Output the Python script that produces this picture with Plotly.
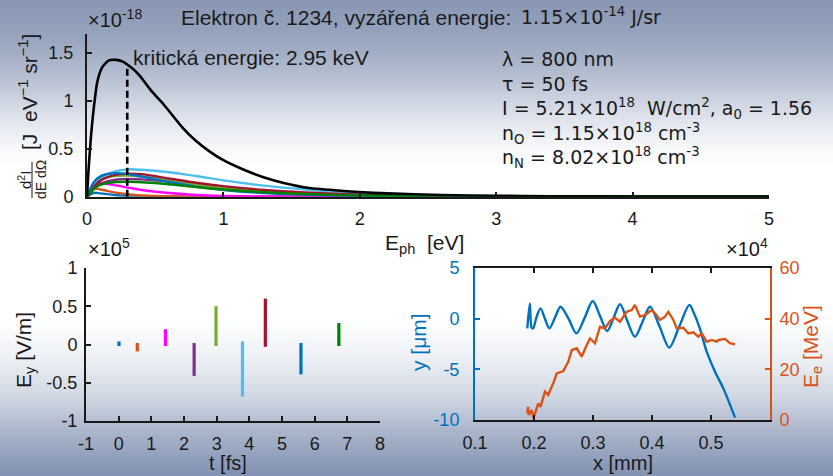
import plotly.graph_objects as go
import numpy as np

W, H = 833, 476

# ---------------- data ----------------
# top panel: photon spectrum (E_ph in 1e4 eV, intensity in 1e-18 J eV^-1 sr^-1)
E_total = [0, 0.01, 0.027, 0.051, 0.076, 0.112, 0.161, 0.21, 0.259, 0.32, 0.381, 0.467,
           0.565, 0.7, 0.8, 0.9, 1.0, 1.15, 1.3, 1.45, 1.63, 1.88, 2.1, 2.4, 2.8, 3.2,
           3.6, 4.0, 4.5, 5.0]
I_total = [0, 0.25, 0.59, 0.94, 1.20, 1.35, 1.42, 1.425, 1.41, 1.35, 1.27, 1.11,
           0.955, 0.72, 0.58, 0.47, 0.38, 0.28, 0.2, 0.14, 0.09, 0.06, 0.04, 0.025, 0.013,
           0.007, 0.004, 0.002, 0.001, 0.0005]
crit_energy_keV = 2.95

E_part = [0, 0.05, 0.1, 0.2, 0.3, 0.4, 0.6, 0.8, 1.0, 1.3, 1.6, 2.0, 2.5, 3.0, 4.0, 5.0]
I_blue1 = [0, 0.04, 0.035, 0.018, 0.008, 0.003, 0.001, 0, 0, 0, 0, 0, 0, 0, 0, 0]
I_orange = [0, 0.085, 0.075, 0.045, 0.025, 0.013, 0.004, 0.001, 0, 0, 0, 0, 0, 0, 0, 0]
I_magenta = [0, 0.12, 0.14, 0.12, 0.095, 0.07, 0.038, 0.018, 0.008, 0.003, 0.001, 0, 0, 0, 0, 0]
I_purple = [0, 0.08, 0.135, 0.175, 0.185, 0.18, 0.155, 0.12, 0.09, 0.056, 0.033, 0.016, 0.006, 0.002, 0, 0]
I_yellowgreen = [0, 0.11, 0.175, 0.215, 0.22, 0.21, 0.17, 0.125, 0.09, 0.055, 0.032, 0.014, 0.005, 0.002, 0, 0]
I_lightblue = [0, 0.12, 0.2, 0.26, 0.285, 0.28, 0.255, 0.215, 0.17, 0.115, 0.075, 0.035, 0.013, 0.006, 0.002, 0.001]
I_darkred = [0, 0.1, 0.17, 0.225, 0.24, 0.235, 0.19, 0.145, 0.11, 0.07, 0.045, 0.022, 0.008, 0.003, 0.001, 0]
I_blue2 = [0, 0.15, 0.215, 0.245, 0.235, 0.21, 0.155, 0.105, 0.07, 0.037, 0.019, 0.008, 0.003, 0.001, 0, 0]
I_green = [0, 0.08, 0.125, 0.15, 0.155, 0.15, 0.13, 0.1, 0.075, 0.047, 0.028, 0.013, 0.005, 0.002, 0, 0]

# bottom-left: E_y segments (t in fs, E_y in 1e5 V/m)
seg_t = [0.01, 0.57, 1.43, 2.31, 2.98, 3.79, 4.49, 5.58, 6.74]
seg_lo = [-0.02, -0.09, -0.02, -0.41, -0.02, -0.68, -0.03, -0.39, -0.02]
seg_hi = [0.04, 0.02, 0.20, 0.02, 0.50, 0.04, 0.60, 0.02, 0.28]

# bottom-right: trajectory y(x) [um] and electron energy [MeV]
traj_x = [0.1887, 0.1930, 0.1960, 0.1985, 0.204, 0.211, 0.2185, 0.226, 0.2355, 0.245,
          0.2585, 0.272, 0.286, 0.2995, 0.312, 0.324, 0.335, 0.3458, 0.358, 0.371,
          0.384, 0.3966, 0.413, 0.4293, 0.446, 0.4633, 0.472, 0.481, 0.4927, 0.5068,
          0.5209, 0.5407]
traj_y = [-0.95, 1.5, -0.9, -0.95, 0.1, 1.02, 0.0, -0.95, 0.1, 1.18,
          0.0, -1.45, 0.1, 1.74, 0.25, -1.22, 0.1, 1.42, -0.2, -1.78,
          -0.3, 1.18, -0.8, -2.86, -0.8, 1.35, 0.4, -0.95, -3.26, -5.23,
          -6.88, -9.77]
en_x = [0.1887, 0.19, 0.191, 0.196, 0.199, 0.2034, 0.2073, 0.211, 0.2186, 0.224,
        0.2327, 0.2385, 0.2497, 0.258, 0.2639, 0.2723, 0.2808, 0.2893, 0.295, 0.3034,
        0.3119, 0.32, 0.329, 0.337, 0.3458, 0.357, 0.3656, 0.371, 0.3797, 0.388,
        0.3994, 0.405, 0.4136, 0.422, 0.4277, 0.4362, 0.4419, 0.453, 0.4616, 0.47,
        0.4785, 0.4842, 0.4927, 0.5012, 0.5096, 0.513, 0.5237, 0.5322, 0.5407]
en_E = [2.6, 5.2, 2.0, 3.9, 0.7, 3.9, 6.6, 5.2, 11.2, 9.9,
        14.5, 18.4, 19.3, 23.0, 27.6, 28.3, 25.0, 29.6, 32.2, 30.3,
        36.8, 36.2, 39.1, 40.4, 38.8, 42.7, 43.4, 45.4, 40.8, 41.4,
        43.4, 42.1, 39.5, 40.8, 42.7, 39.5, 36.2, 36.4, 34.2, 34.6,
        32.9, 34.2, 30.9, 31.6, 30.9, 31.6, 32.0, 30.3, 29.9]

# ---------------- style ----------------
BLUE = '#0072BD'
ORANGE = '#D95319'
part_colors = ['#0072BD', '#D95319', '#FF00FF', '#7E2F8E', '#77AC30',
               '#4DBEEE', '#A2142F', '#0072BD', '#008000']
part_spectra = [I_blue1, I_orange, I_magenta, I_purple, I_yellowgreen,
                I_lightblue, I_darkred, I_blue2, I_green]
INK = '#1a1a1a'
FONT = 'Liberation Sans, Arial, Helvetica, sans-serif'
TFONT = 'DejaVu Sans, sans-serif'
TICK = 18

fig = go.Figure()

# top panel
for col, spec in zip(part_colors, part_spectra):
    fig.add_trace(go.Scatter(x=E_part, y=spec, mode='lines', line=dict(color=col, width=2.4, shape='spline', smoothing=0.8),
                             xaxis='x', yaxis='y', showlegend=False, hoverinfo='skip'))
fig.add_trace(go.Scatter(x=E_total, y=I_total, mode='lines', line=dict(color='black', width=2.6, shape='spline', smoothing=0.6),
                         xaxis='x', yaxis='y', showlegend=False))
xc = crit_energy_keV / 10.0
yc = float(np.interp(xc, E_total, I_total))
fig.add_trace(go.Scatter(x=[xc, xc], y=[0, yc], mode='lines', line=dict(color='black', width=2.6, dash='7px,4px'),
                         xaxis='x', yaxis='y', showlegend=False))

# bottom-left
for col, t, lo, hi in zip(part_colors, seg_t, seg_lo, seg_hi):
    fig.add_trace(go.Scatter(x=[t, t], y=[lo, hi], mode='lines', line=dict(color=col, width=3.2),
                             xaxis='x2', yaxis='y2', showlegend=False))

# bottom-right
fig.add_trace(go.Scatter(x=traj_x, y=traj_y, mode='lines', line=dict(color=BLUE, width=2.4, shape='spline', smoothing=0.9),
                         xaxis='x3', yaxis='y3', showlegend=False))
fig.add_trace(go.Scatter(x=en_x, y=en_E, mode='lines', line=dict(color=ORANGE, width=2.4),
                         xaxis='x3', yaxis='y4', showlegend=False))


def px(x):
    return x / W


def py(y):
    return 1 - y / H


def axstyle(**kw):
    d = dict(showline=True, linewidth=2, linecolor=INK, ticks='inside', ticklen=5, tickwidth=2,
             tickcolor=INK, showgrid=False, zeroline=False, automargin=False,
             tickfont=dict(family=FONT, size=TICK, color=INK))
    d.update(kw)
    return d


layout = dict(
    template='none',
    width=W, height=H, margin=dict(l=0, r=0, t=0, b=0, pad=0), autosize=False,
    paper_bgcolor='white', plot_bgcolor='rgba(0,0,0,0)', showlegend=False,
    xaxis=axstyle(domain=[px(87), px(769)], range=[0, 5], tickvals=[0, 1, 2, 3, 4, 5], anchor='y',
                  ticklabelstandoff=5),
    yaxis=axstyle(domain=[py(196.7), py(33.5)], range=[0, 1.7], tickvals=[0, 0.5, 1, 1.5],
                  ticktext=['0', '0.5', '1', '1.5'], anchor='x', ticklabelstandoff=8),
    xaxis2=axstyle(domain=[px(86), px(380)], range=[-1, 8], tickvals=list(range(-1, 9)),
                   ticktext=['-1'] + [str(i) for i in range(0, 9)], anchor='y2', ticklabelstandoff=5),
    yaxis2=axstyle(domain=[py(421), py(268)], range=[-1, 1], tickvals=[-1, -0.5, 0, 0.5, 1],
                   ticktext=['-1', '-0.5', '0', '0.5', '1'], anchor='x2', ticklabelstandoff=3),
    xaxis3=axstyle(domain=[px(475), px(770)], range=[0.1, 0.6], tickvals=[0.1, 0.2, 0.3, 0.4, 0.5],
                   ticktext=['0.1', '0.2', '0.3', '0.4', '0.5'], anchor='y3', mirror='ticks',
                   ticklabelstandoff=5),
    yaxis3=axstyle(domain=[py(420), py(268)], range=[-10, 5], tickvals=[-10, -5, 0, 5],
                   ticktext=['-10', '-5', '0', '5'], anchor='x3', linecolor=BLUE, tickcolor=BLUE,
                   tickfont=dict(family=FONT, size=TICK, color=BLUE), ticklabelstandoff=10),
    yaxis4=axstyle(domain=[py(420), py(268)], range=[0, 60], tickvals=[0, 20, 40, 60],
                   anchor='x3', overlaying='y3', side='right', linecolor=ORANGE, tickcolor=ORANGE,
                   tickfont=dict(family=FONT, size=TICK, color=ORANGE), ticklabelstandoff=4),
)
fig.update_layout(**layout)

# background gradient bands
stops = [(0, (136, 150, 179)), (40, (152, 165, 190)), (80, (184, 193, 211)), (120, (224, 228, 237)),
         (150, (248, 249, 251)), (170, (255, 255, 255)), (320, (255, 255, 255)), (360, (236, 239, 244)),
         (400, (206, 213, 225)), (430, (172, 183, 203)), (476, (128, 145, 178))]
sy = [s[0] for s in stops]
shapes = []
step = 4
for y0 in range(0, H, step):
    yc_ = y0 + step / 2
    rgb = [int(round(np.interp(yc_, sy, [s[1][k] for s in stops]))) for k in range(3)]
    shapes.append(dict(type='rect', xref='paper', yref='paper', x0=0, x1=1, y0=py(min(H, y0 + step)) - 0.001,
                       y1=py(y0) + 0.001, fillcolor='rgb(%d,%d,%d)' % tuple(rgb), line=dict(width=0), layer='below'))
# fraction bar of the y label
shapes.append(dict(type='line', xref='paper', yref='paper', x0=px(32), x1=px(32), y0=py(198), y1=py(162),
                   line=dict(color=INK, width=1)))
fig.update_layout(shapes=shapes)

ann = []


def text(x, y, s, size, color=INK, family=FONT, angle=0, xanchor='center', yanchor='middle'):
    ann.append(dict(x=px(x), y=py(y), xref='paper', yref='paper', text=s, showarrow=False,
                    font=dict(family=family, size=size, color=color), textangle=angle,
                    xanchor=xanchor, yanchor=yanchor))


text(179, 18, 'Elektron č. 1234, vyzářená energie:', 21, xanchor='left')
text(519, 16, '1.15×10<sup>-14</sup> J/sr', 19, family=TFONT, xanchor='left')
text(131, 57, 'kritická energie: 2.95 keV', 21, xanchor='left')
text(86, 19, '×10<sup>-18</sup>', 20, xanchor='left')
text(86, 247, '×10<sup>5</sup>', 20, xanchor='left')
text(770, 247, '×10<sup>4</sup>', 20, xanchor='right')

# text box
box = ['λ = 800 nm', 'τ = 50 fs', 'I = 5.21×10<sup>18</sup>  W/cm<sup>2</sup>, a<sub>0</sub> = 1.56',
       'n<sub>O</sub> = 1.15×10<sup>18</sup> cm<sup>-3</sup>', 'n<sub>N</sub> = 8.02×10<sup>18</sup> cm<sup>-3</sup>']
for i, s in enumerate(box):
    text(500, 59 + i * 24.7, s, 19, family=TFONT, xanchor='left')

# axis labels
text(424, 244, 'E<sub>ph</sub>  [eV]', 21)
text(228, 463, 't [fs]', 20)
text(623, 463, 'x [mm]', 20)
text(25, 350, 'E<sub>y</sub> [V/m]', 21, angle=-90)
text(418, 342, 'y [μm]', 21, color=BLUE, angle=-90)
text(812, 347, 'E<sub>e</sub> [MeV]', 21, color=ORANGE, angle=-90)
text(28, 92, '[J  eV<sup>−1</sup> sr<sup>−1</sup>]', 21, angle=-90)
text(24, 180, 'd<sup>2</sup>I', 15, angle=-90)
text(41, 180, 'dE dΩ', 14, angle=-90)

fig.update_layout(annotations=ann)
fig.write_html('out.html', config={'displayModeBar': False},
               post_script="document.body.style.margin='0';document.body.style.padding='0';document.body.style.overflow='hidden';")
